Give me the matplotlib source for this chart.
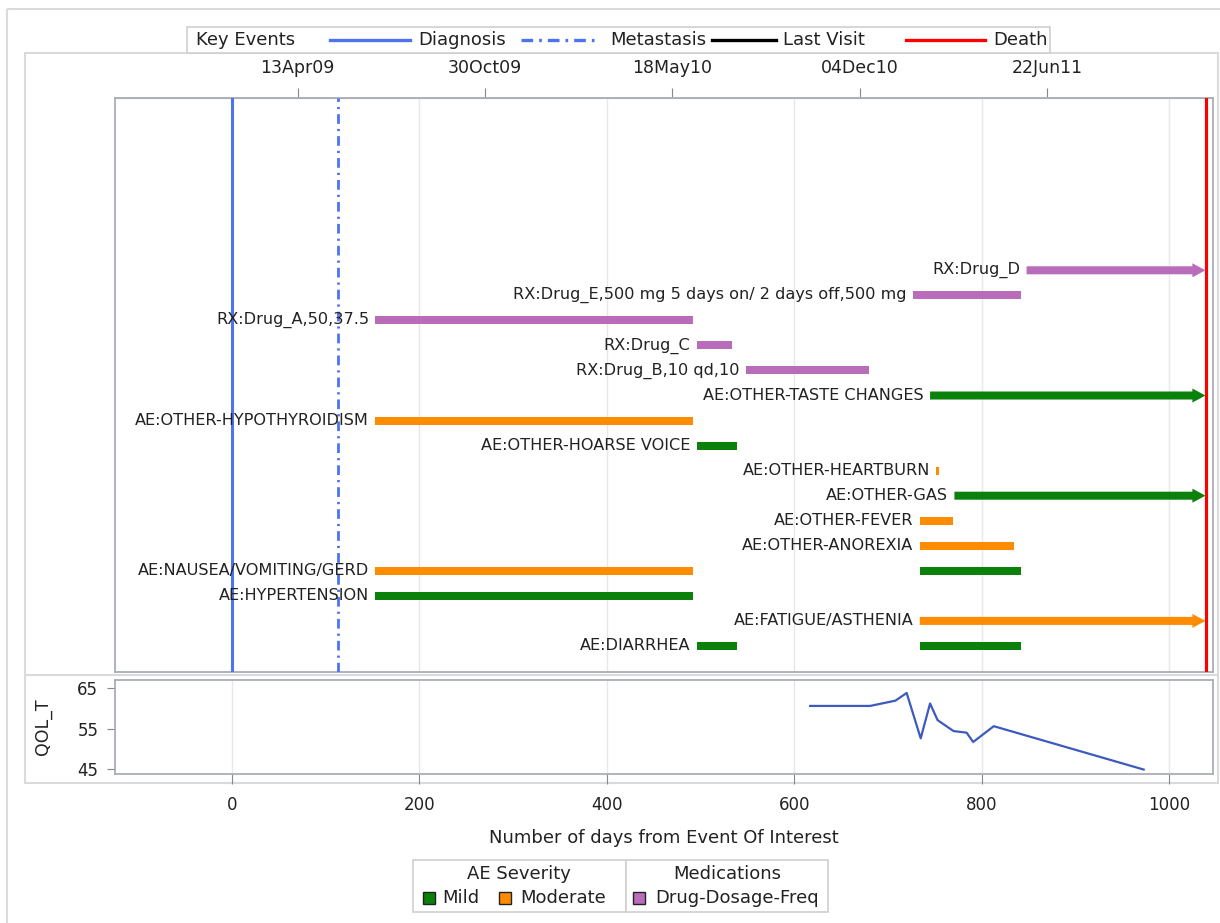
import datetime as dt
import matplotlib
matplotlib.use("Agg")
import matplotlib.pyplot as plt
from matplotlib.lines import Line2D
from matplotlib.patches import Rectangle

# rows of the event panel, top to bottom
rows = ['RX:Drug_D',
        'RX:Drug_E,500 mg 5 days on/ 2 days off,500 mg',
        'RX:Drug_A,50,37.5',
        'RX:Drug_C',
        'RX:Drug_B,10 qd,10',
        'AE:OTHER-TASTE CHANGES',
        'AE:OTHER-HYPOTHYROIDISM',
        'AE:OTHER-HOARSE VOICE',
        'AE:OTHER-HEARTBURN',
        'AE:OTHER-GAS',
        'AE:OTHER-FEVER',
        'AE:OTHER-ANOREXIA',
        'AE:NAUSEA/VOMITING/GERD',
        'AE:HYPERTENSION',
        'AE:FATIGUE/ASTHENIA',
        'AE:DIARRHEA']

# one entry per segment
seg_row = [0, 1, 2, 3, 4, 5, 6, 7, 8, 9, 10, 11, 12, 12, 13, 14, 15, 15]
seg_start = [848, 727, 153, 496, 548, 745, 153, 496, 751.5, 771, 734, 734, 153, 734, 153, 734, 496, 734]
seg_end = [1039, 842, 492, 534, 680, 1039, 492, 539, 754, 1039, 770, 835, 492, 842, 492, 1039, 539, 842]
seg_kind = ['Drug', 'Drug', 'Drug', 'Drug', 'Drug', 'Mild', 'Moderate', 'Mild', 'Moderate', 'Mild',
            'Moderate', 'Moderate', 'Moderate', 'Mild', 'Mild', 'Moderate', 'Mild', 'Mild']
seg_arrow = [True, False, False, False, False, True, False, False, False, True,
             False, False, False, False, False, True, False, False]

# key events (days)
diagnosis_day = 0
metastasis_day = 113
last_visit_day = 1039
death_day = 1039

# quality of life
qol_day = [617, 681, 708, 720, 735, 745, 753, 770, 784, 791, 813, 973]
qol_val = [60.6, 60.6, 61.9, 63.8, 52.6, 61.2, 57.1, 54.4, 54.0, 51.7, 55.6, 44.9]

# date axis on top
origin = dt.date(2009, 2, 2)
top_dates = [dt.date(2009, 4, 13), dt.date(2009, 10, 30), dt.date(2010, 5, 18),
             dt.date(2010, 12, 4), dt.date(2011, 6, 22)]

colors = {'Mild': '#0b800b', 'Moderate': '#ff8c00', 'Drug': '#b96cb9'}
blue = '#4d73f2'
frame = '#a9aeb6'
light = '#dadada'
txt = '#222222'

plt.rcParams['font.family'] = 'DejaVu Sans'

fig = plt.figure(figsize=(12.2, 9.23), dpi=100)
W, H = 1220, 923

# decoration layer in pixel units (frames, legends)
deco = fig.add_axes([0, 0, 1, 1])
deco.set_xlim(0, W)
deco.set_ylim(H, 0)
deco.axis('off')
deco.add_patch(Rectangle((7, 9), 1300, 1000, fill=False, ec=light, lw=1.5))
deco.add_patch(Rectangle((25, 53), 1193, 730, fill=False, ec=light, lw=1.5))
deco.plot([25, 1218], [675, 675], color=light, lw=1.5)

# main event panel
ax = fig.add_axes([115 / W, 1 - 672 / H, 1098 / W, 574 / H])
ax.set_xlim(-125, 1047)
ax.set_ylim(16.04, -6.88)
ax.set_yticks([])
ax.set_xticks(range(0, 1001, 200))
ax.tick_params(axis='x', bottom=False, labelbottom=False)
ax.grid(axis='x', color='#e8e8e8', lw=1)
ax.set_axisbelow(True)
for s in ax.spines.values():
    s.set_color(frame)
    s.set_linewidth(1.3)

ax.axvline(diagnosis_day, color=blue, lw=2.2, zorder=3)
ax.axvline(metastasis_day, color=blue, lw=2.0, dashes=(3.5, 1.8, 0.8, 1.8), zorder=3)
ax.axvline(last_visit_day, color='black', lw=2.2, zorder=3)
ax.axvline(death_day, color='#ff0000', lw=2.2, zorder=4)

for r, s, e, k, a in zip(seg_row, seg_start, seg_end, seg_kind, seg_arrow):
    c = colors[k]
    if a:
        ax.arrow(s, r, e - s, 0, width=0.32, head_width=0.56, head_length=14,
                 length_includes_head=True, color=c, lw=0, zorder=5)
    else:
        ax.barh(r, e - s, left=s, height=0.32, color=c, zorder=5)

for i, name in enumerate(rows):
    first = min(s for r, s in zip(seg_row, seg_start) if r == i)
    ax.annotate(name, (first, i), xytext=(-4.5, 0), textcoords='offset points',
                ha='right', va='center', fontsize=11.6, color=txt, zorder=6)

sec = ax.secondary_xaxis('top')
sec.set_xticks([(d - origin).days for d in top_dates],
               labels=[d.strftime('%d%b%y') for d in top_dates])
sec.tick_params(length=7, pad=8, labelsize=12.5, color='#888888', labelcolor=txt)
sec.spines['top'].set_color(frame)

# QOL panel
ax2 = fig.add_axes([115 / W, 1 - 774 / H, 1098 / W, 94 / H])
ax2.set_xlim(-125, 1047)
ax2.set_ylim(43.8, 67)
ax2.set_xticks(range(0, 1001, 200))
ax2.set_yticks([45, 55, 65])
ax2.grid(axis='x', color='#e8e8e8', lw=1)
ax2.set_axisbelow(True)
ax2.plot(qol_day, qol_val, color='#3d5bbf', lw=1.6)
ax2.tick_params(axis='x', length=7, pad=9, labelsize=12, color='#888888', labelcolor=txt)
ax2.tick_params(axis='y', length=6, pad=6, labelsize=12, color='#888888', labelcolor=txt)
for s in ax2.spines.values():
    s.set_color(frame)
    s.set_linewidth(1.3)
ax2.set_ylabel('QOL_T', fontsize=12.5, color=txt)
ax2.yaxis.set_label_coords(-0.057, 0.5)

fig.text(664 / W, 1 - 838 / H, 'Number of days from Event Of Interest',
         ha='center', va='center', fontsize=13, color=txt)

# top legend: key events
deco.add_patch(Rectangle((187, 27), 863, 26, fc='white', ec='#cfcfcf', lw=1.2, zorder=5))
deco.text(196, 40, 'Key Events', ha='left', va='center', fontsize=13, color=txt, zorder=6)
key_items = [('Diagnosis', blue, '-', 330, 410, 418),
             ('Metastasis', blue, '-.', 521, 600, 610),
             ('Last Visit', 'black', '-', 712, 776, 783),
             ('Death', '#ff0000', '-', 906, 985, 993)]
for lab, c, ls, x0, x1, xt in key_items:
    ln = Line2D([x0, x1], [40, 40], color=c, lw=2.4, zorder=6)
    if ls == '-.':
        ln.set_dashes((3.5, 1.8, 0.8, 1.8))
    deco.add_line(ln)
    deco.text(xt, 40, lab, ha='left', va='center', fontsize=13, color=txt, zorder=6)

# bottom legend: severity and medications
deco.add_patch(Rectangle((413, 860), 213, 52, fc='white', ec='#cfcfcf', lw=1.2, zorder=5))
deco.add_patch(Rectangle((626, 860), 202, 52, fc='white', ec='#cfcfcf', lw=1.2, zorder=5))
deco.text(519, 874, 'AE Severity', ha='center', va='center', fontsize=13, color=txt, zorder=6)
deco.text(727, 874, 'Medications', ha='center', va='center', fontsize=13, color=txt, zorder=6)
sw_items = [('Mild', colors['Mild'], 423, 442),
            ('Moderate', colors['Moderate'], 499, 520),
            ('Drug-Dosage-Freq', colors['Drug'], 633, 655)]
for lab, c, xs, xt in sw_items:
    deco.add_patch(Rectangle((xs, 892), 12, 12, fc=c, ec='#222222', lw=1, zorder=6))
    deco.text(xt, 898, lab, ha='left', va='center', fontsize=13, color=txt, zorder=6)

fig.savefig('out.png', dpi=100)
